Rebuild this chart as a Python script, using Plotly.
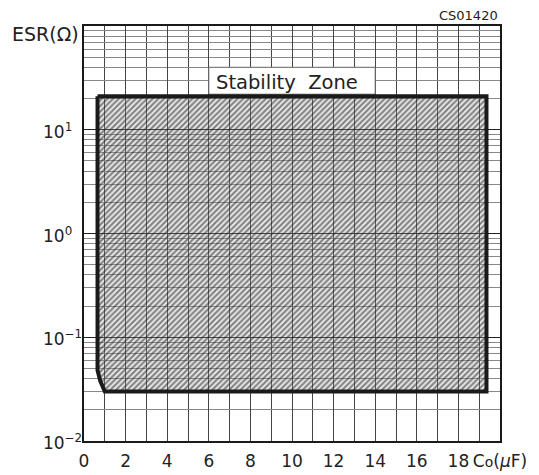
import math
import plotly.graph_objects as go

# Stability zone outline (Co in uF, ESR in ohm)
zone_co = [0.65, 19.35, 19.35, 1.0, 0.78, 0.65, 0.65]
zone_esr = [21, 21, 0.03, 0.03, 0.038, 0.048, 21]

x_ticks = [0, 2, 4, 6, 8, 10, 12, 14, 16, 18, 20]
x_labels = ["0", "2", "4", "6", "8", "10", "12", "14", "16", "18",
            "C<span style='font-size:14px'>o</span>(<i>μ</i>F)"]
y_ticks = [0.01, 0.1, 1, 10]
y_labels = ["10<sup>−2</sup>", "10<sup>−1</sup>", "10<sup>0</sup>", "10<sup>1</sup>"]

label_text = "Stability  Zone"
label_box_co = [6, 14]
label_box_esr = [22, 40]
label_pos = [9.75, 1.455]  # Co, log10(ESR)
code_text = "CS01420"

FONT = "DejaVu Sans"

fig = go.Figure()
fig.add_trace(go.Scatter(
    x=zone_co, y=zone_esr, mode="lines", fill="toself",
    line=dict(color="#1a1a1a", width=4),
    fillcolor="rgba(0,0,0,0)",
    fillpattern=dict(shape="/", size=4, solidity=0.55, fgcolor="#1a1a1a",
                     bgcolor="rgba(190,190,190,0.25)"),
    hoverinfo="skip", showlegend=False,
))

fig.add_shape(type="rect", xref="x", yref="y",
              x0=label_box_co[0], x1=label_box_co[1],
              y0=label_box_esr[0], y1=label_box_esr[1],
              fillcolor="white", line=dict(color="#666", width=1), layer="between")

fig.add_annotation(x=label_pos[0], y=label_pos[1], xref="x", yref="y",
                   text=label_text, showarrow=False,
                   font=dict(family=FONT, size=19.5, color="#222"))
fig.add_annotation(x=0, y=1, xref="paper", yref="paper", xanchor="right", yanchor="middle",
                   xshift=-3, yshift=-8, text="ESR(Ω)", showarrow=False,
                   font=dict(family=FONT, size=19, color="#222"))
fig.add_annotation(x=1, y=1, xref="paper", yref="paper", xanchor="right", yanchor="bottom",
                   yshift=1, text=code_text, showarrow=False,
                   font=dict(family=FONT, size=13, color="#222"))

# left-aligned y tick labels (as in the reference)
for v, t in zip(y_ticks, y_labels):
    fig.add_annotation(x=0, y=math.log10(v), xref="paper", yref="y",
                       xanchor="left", yanchor="middle", xshift=-43, yshift=-1,
                       text=t, showarrow=False,
                       font=dict(family=FONT, size=17, color="#222"))

fig.update_xaxes(
    range=[0, 20], tickvals=x_ticks, ticktext=x_labels, ticks="",
    showgrid=True, gridcolor="#444", gridwidth=1,
    minor=dict(dtick=1, tick0=0, showgrid=True, gridcolor="#444", gridwidth=1),
    showline=True, linecolor="#1a1a1a", linewidth=2, mirror=True,
    zeroline=False, ticklabelstandoff=4, automargin=False,
    tickfont=dict(family=FONT, size=17, color="#222"),
)
fig.update_yaxes(
    type="log", range=[-2, 2], tickvals=y_ticks, ticks="", showticklabels=False,
    showgrid=True, gridcolor="#222", gridwidth=1,
    minor=dict(dtick="D1", showgrid=True, gridcolor="#888", gridwidth=1),
    showline=True, linecolor="#1a1a1a", linewidth=2, mirror=True,
    zeroline=False, automargin=False,
)
fig.update_layout(
    width=539, height=475,
    margin=dict(l=84, r=39, t=26, b=34),
    plot_bgcolor="white", paper_bgcolor="white",
    showlegend=False,
)
fig.write_html(
    "out.html",
    config={"displayModeBar": False},
    post_script=(
        "document.documentElement.style.cssText='margin:0;padding:0;overflow:hidden';"
        "document.body.style.cssText='margin:0;padding:0;overflow:hidden';"
    ),
)
